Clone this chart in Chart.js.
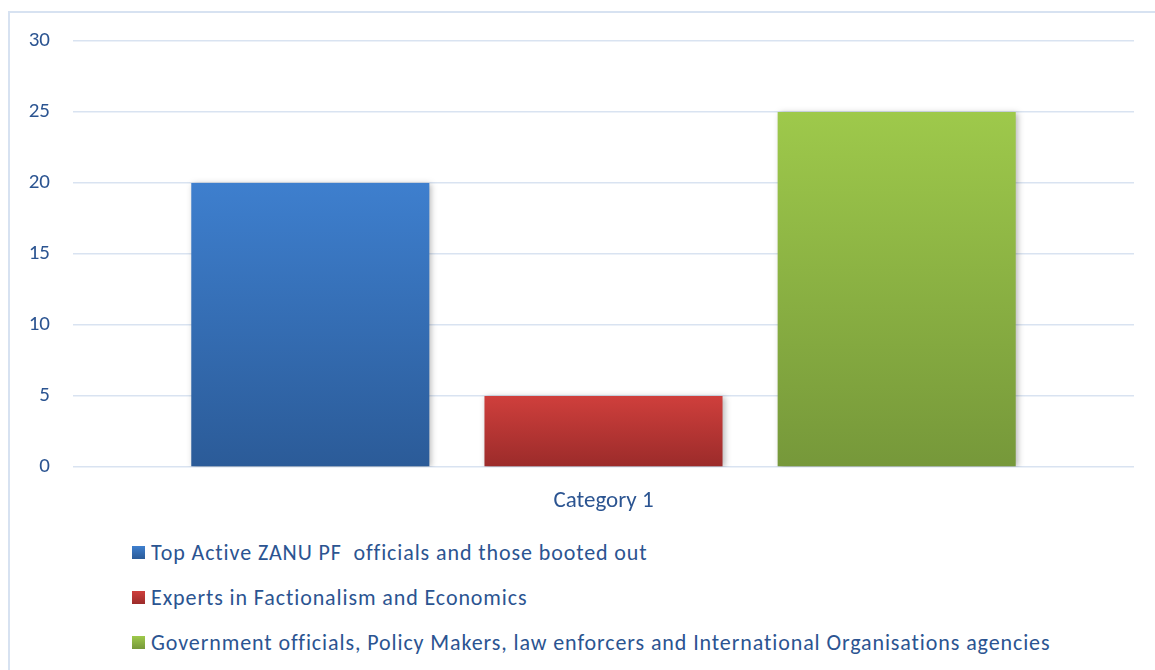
<!DOCTYPE html>
<html>
<head>
<meta charset="utf-8">
<script src="https://cdn.jsdelivr.net/npm/chart.js@4.4.1/dist/chart.umd.min.js"></script>
<style>
  body { margin: 0; background: #fff; overflow: hidden; }
  #frame {
    position: absolute; left: 8px; top: 11px; width: 1200px; height: 700px;
    border: 2px solid #d7e2f1; box-sizing: border-box;
  }
  #wrap { position: absolute; left: 0; top: 0; width: 1155px; height: 530px; }
  #legend { position: absolute; left: 132px; top: 539px; font-family: Calibri, Carlito, Lato, sans-serif; font-size: 22px; letter-spacing: 0.9px; color: #2b5491; }
  .item { height: 45px; display: flex; align-items: flex-start; }
  .item span.box { display: inline-block; width: 13px; height: 13px; margin: 7px 6px 0 0; }
</style>
</head>
<body>
<div id="frame"></div>
<div id="wrap"><canvas id="barChart"></canvas></div>
<div id="legend"></div>
<script>
const categories = ['Category 1'];
const series_names = [
  'Top Active ZANU PF  officials and those booted out',
  'Experts in Factionalism and Economics',
  'Government officials, Policy Makers, law enforcers and International Organisations agencies'
];
const series_values = [[20], [5], [25]];
const y_ticks = [0, 5, 10, 15, 20, 25, 30];

// top / bottom colour of each bar gradient
const colour_top = ['#3e7fce', '#cf3f3c', '#9ec94b'];
const colour_bottom = ['#2b5b98', '#9b2b2a', '#76983a'];

const font_family = 'Calibri, Carlito, Lato, sans-serif';
const text_colour = '#2b5491';

function barGradient(context) {
    const chart = context.chart;
    const i = context.datasetIndex;
    if (!chart.chartArea) return colour_top[i];
    const y = chart.scales.y;
    const top = y.getPixelForValue(context.raw);
    const bottom = y.getPixelForValue(0);
    const g = chart.ctx.createLinearGradient(0, top, 0, bottom);
    g.addColorStop(0, colour_top[i]);
    g.addColorStop(1, colour_bottom[i]);
    return g;
}

const barShadow = {
    id: 'barShadow',
    beforeDatasetsDraw(chart) {
        const c = chart.ctx;
        c.save();
        c.shadowColor = 'rgba(0,0,0,0.28)';
        c.shadowBlur = 6;
        c.shadowOffsetX = 2;
        c.shadowOffsetY = 1;
    },
    afterDatasetsDraw(chart) {
        chart.ctx.restore();
    }
};

const ctx = document.getElementById('barChart').getContext('2d');

new Chart(ctx, {
    type: 'bar',
    data: {
        labels: categories,
        datasets: series_names.map((name, i) => ({
            label: name,
            data: series_values[i],
            backgroundColor: barGradient,
            borderWidth: 0,
            categoryPercentage: 0.829,
            barPercentage: 0.812
        }))
    },
    options: {
        responsive: true,
        maintainAspectRatio: false,
        animation: false,
        layout: { padding: { top: 41, right: 21, left: 0, bottom: 0 } },
        plugins: {
            legend: { display: false },
            tooltip: { enabled: false }
        },
        scales: {
            x: {
                grid: { display: false },
                border: { display: false },
                ticks: { color: text_colour, font: { family: font_family, size: 23 }, padding: 12 },
                afterFit: s => { s.height = 63; }
            },
            y: {
                min: 0,
                max: 30,
                afterBuildTicks: s => { s.ticks = y_ticks.map(v => ({ value: v })); },
                grid: { color: '#d9e3f1', lineWidth: 1.5, drawTicks: false },
                border: { display: false },
                ticks: { color: text_colour, font: { family: font_family, size: 21 }, padding: 23 },
                afterFit: s => { s.width = 73; }
            }
        }
    },
    plugins: [barShadow]
});

const legend = document.getElementById('legend');
series_names.forEach((name, i) => {
    const row = document.createElement('div');
    row.className = 'item';
    const box = document.createElement('span');
    box.className = 'box';
    box.style.background = 'linear-gradient(' + colour_top[i] + ', ' + colour_bottom[i] + ')';
    row.appendChild(box);
    const t = document.createElement('span');
    t.textContent = name;
    t.style.whiteSpace = 'pre';
    row.appendChild(t);
    legend.appendChild(row);
});
</script>
</body>
</html>
